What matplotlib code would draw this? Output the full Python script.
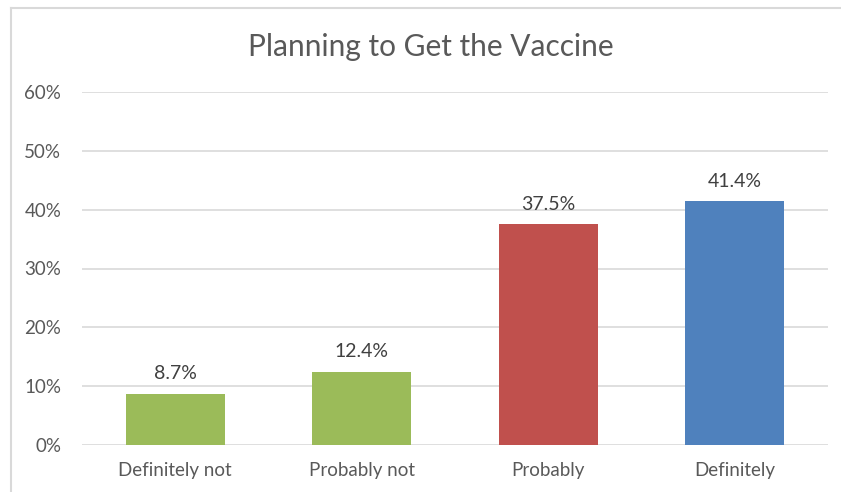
import matplotlib
matplotlib.use("Agg")
import matplotlib.pyplot as plt
from matplotlib.lines import Line2D

categories = ["Definitely not", "Probably not", "Probably", "Definitely"]
values = [8.7, 12.4, 37.5, 41.4]
colors = ["#9BBB59", "#9BBB59", "#C0504D", "#4F81BD"]
yticks = [0, 10, 20, 30, 40, 50, 60]
title = "Planning to Get the Vaccine"

plt.rcParams['font.family'] = ['Lato', 'DejaVu Sans']
fig = plt.figure(figsize=(8.41, 4.92), dpi=100)
ax = fig.add_axes([82/841, 1-445/492, (828-82)/841, (445-92)/492])

ax.bar(range(len(categories)), values, width=0.53, color=colors, zorder=3)
for i, v in enumerate(values):
    ax.text(i, v + 2.0, f"{v:.1f}%", ha="center", va="bottom", fontsize=14, color="#404040")

ax.set_ylim(0, 60)
ax.set_xlim(-0.5, len(categories) - 0.5)
ax.set_yticks(yticks)
ax.set_yticklabels([f"{t}%" for t in yticks])
ax.set_xticks(range(len(categories)))
ax.set_xticklabels(categories)
ax.tick_params(axis="both", length=0, labelsize=13.5, labelcolor="#595959")
ax.tick_params(axis="y", pad=15)
ax.tick_params(axis="x", pad=12)
ax.grid(axis="y", color="#D9D9D9", linewidth=1.2, zorder=0)
for s in ax.spines.values():
    s.set_visible(False)

fig.text(431/841, 1-47/492, title, ha="center", va="center", fontsize=21.5, color="#595959")

# outer frame (top and left)
fig.add_artist(Line2D([11/841, 11/841], [0, 1-8/492], transform=fig.transFigure, color="#D9D9D9", lw=1.5))
fig.add_artist(Line2D([11/841, 1], [1-8/492, 1-8/492], transform=fig.transFigure, color="#D9D9D9", lw=1.5))

fig.savefig("out.png", dpi=100)
